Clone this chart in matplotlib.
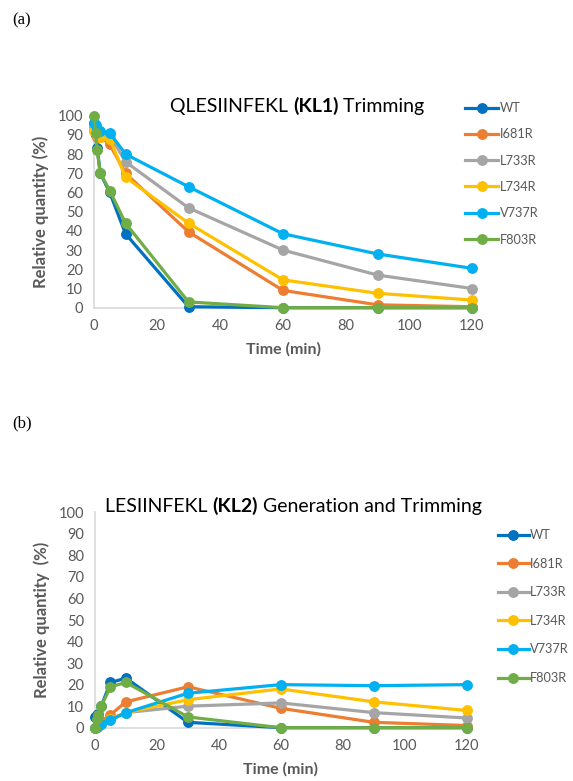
import matplotlib
matplotlib.use("Agg")
import matplotlib.pyplot as plt
from matplotlib.text import Annotation

plt.rcParams["font.family"] = ["Lato", "DejaVu Sans"]

TIMES = [0, 0.5, 1, 2, 5, 10, 30, 60, 90, 120]
MUTANTS = ["WT", "I681R", "L733R", "L734R", "V737R", "F803R"]
COLORS = ["#0070C0", "#ED7D31", "#A5A5A5", "#FFC000", "#00B0F0", "#70AD47"]

# KL1 trimming (%)
KL1_WT = [96, 90, 83, 70, 60, 38.5, 0.5, 0, 0, 0]
KL1_I681R = [92, 91, 89, 89, 85, 70, 39.5, 9, 1.5, 0.5]
KL1_L733R = [94, 93, 92, 91, 90, 76, 52, 30, 17, 10]
KL1_L734R = [92, 91, 90, 89, 88, 68, 44, 14.5, 7.5, 4]
KL1_V737R = [96, 95, 93, 92, 91, 80, 63, 38.5, 28, 20.5]
KL1_F803R = [100, 91, 82, 70, 61, 44, 3, 0, 0, 0]

# KL2 generation and trimming (%)
KL2_WT = [5, 6, 6.5, 10, 21, 23, 2.5, 0, 0, 0]
KL2_I681R = [0, 1, 2, 3, 6, 12, 19, 9, 2.5, 1]
KL2_L733R = [0, 0.5, 1, 1.5, 4, 7, 10, 11.5, 7, 4.5]
KL2_L734R = [0, 0.5, 1, 1.5, 4, 7, 13, 18, 12, 8]
KL2_V737R = [0, 0.5, 1, 1.5, 3.5, 7, 16, 20, 19.5, 20]
KL2_F803R = [0, 4, 6, 10, 19, 21, 5, 0, 0, 0]

KL1 = [KL1_WT, KL1_I681R, KL1_L733R, KL1_L734R, KL1_V737R, KL1_F803R]
KL2 = [KL2_WT, KL2_I681R, KL2_L733R, KL2_L734R, KL2_V737R, KL2_F803R]

TICK_GRAY = "#595959"
W, H = 573, 781


def styled_axes(fig, rect):
    ax = fig.add_axes(rect)
    for side in ("top", "right"):
        ax.spines[side].set_visible(False)
    for side in ("left", "bottom"):
        ax.spines[side].set_color("#D9D9D9")
        ax.spines[side].set_linewidth(1.2)
    ax.set_xlim(0, 120)
    ax.set_ylim(0, 100)
    ax.set_xticks(range(0, 121, 20))
    ax.set_yticks(range(0, 101, 10))
    ax.tick_params(length=0, labelsize=10.5, labelcolor=TICK_GRAY)
    ax.tick_params(axis="y", pad=8)
    ax.tick_params(axis="x", pad=8)
    return ax


def draw_series(ax, data):
    lines = []
    for name, color, vals in zip(MUTANTS, COLORS, data):
        (ln,) = ax.plot(TIMES, vals, color=color, lw=2.3, marker="o",
                        markersize=6.8, label=name, clip_on=False, zorder=3)
        lines.append(ln)
    return lines


def add_title(fig, x, y, pieces, size=14):
    prev = fig.text(x / W, 1 - y / H, pieces[0][0], fontsize=size,
                    fontweight=pieces[0][1], va="baseline", ha="left")
    for text, weight in pieces[1:]:
        prev = fig.add_artist(Annotation(
            text, xy=(1, 0), xycoords=prev, xytext=(0, 0),
            textcoords="offset points", fontsize=size, fontweight=weight,
            va="bottom", ha="left"))


def add_legend(ax, lines, x, y, spacing, handlelength=2.6):
    ax.legend(handles=lines, loc="upper left",
              bbox_to_anchor=(x / W, 1 - y / H),
              bbox_transform=ax.figure.transFigure, frameon=False,
              fontsize=9.2, labelcolor=TICK_GRAY, handlelength=handlelength,
              handletextpad=0.1, labelspacing=spacing, borderpad=0,
              borderaxespad=0)


def label_axes(ax, ylabel):
    ax.set_xlabel("Time (min)", fontsize=11.5, fontweight="bold",
                  color=TICK_GRAY, labelpad=7)
    ax.set_ylabel(ylabel, fontsize=12, fontweight="bold",
                  color=TICK_GRAY, labelpad=6)


fig = plt.figure(figsize=(W / 100, H / 100), dpi=100)

# panel (a)
ax1 = styled_axes(fig, [94 / W, 1 - 307.7 / H, 378 / W, 192 / H])
l1 = draw_series(ax1, KL1)
label_axes(ax1, "Relative quantity (%)")
add_title(fig, 170, 112, [("QLESIINFEKL ", "normal"), ("(KL1)", "bold"),
                          (" Trimming", "normal")])
add_legend(ax1, l1, 465, 102, 1.12)

# panel (b)
ax2 = styled_axes(fig, [95 / W, 1 - 727.7 / H, 371.7 / W, 215.4 / H])
l2 = draw_series(ax2, KL2)
label_axes(ax2, "Relative quantity  (%)")
add_title(fig, 105, 512, [("LESIINFEKL ", "normal"), ("(KL2)", "bold"),
                          (" Generation and Trimming", "normal")])
add_legend(ax2, l2, 498, 529, 1.3, handlelength=2.4)

fig.text(12 / W, 1 - 24 / H, "(a)", fontsize=12, family="Liberation Serif")
fig.text(12 / W, 1 - 427 / H, "(b)", fontsize=12, family="Liberation Serif")

fig.savefig("out.png", dpi=100)
